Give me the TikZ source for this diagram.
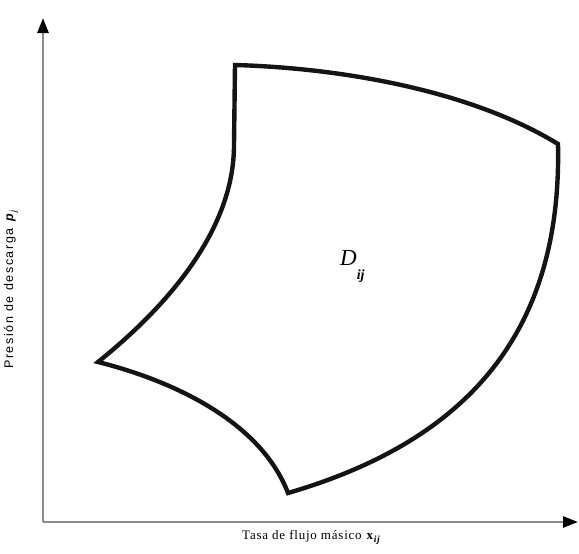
\documentclass[tikz,border=0pt]{standalone}
\usepackage{fontspec}
\setmainfont{Liberation Serif}
\newfontfamily\axisfont[LetterSpace=13]{Liberation Sans}
\newfontfamily\xaxisfont[LetterSpace=6]{Liberation Serif}
\usetikzlibrary{arrows.meta}

\begin{document}
\begin{tikzpicture}[
  x=1pt, y=-1pt,
  axis/.style={draw=black!45, line width=2.5pt, -{Triangle[length=15pt,width=11pt,black]}},
  region/.style={draw=black!92, line width=4.4pt, line join=miter},
  lbl/.style={inner sep=0pt, font=\xaxisfont\fontsize{13}{15}\selectfont},
  ylbl/.style={inner sep=0pt, rotate=90, font=\axisfont\fontsize{12.5}{14}\selectfont}
]
\useasboundingbox (0,0) rectangle (579,554);
\coordinate (origin) at (43,522);
\coordinate (ytip) at (43,18);
\coordinate (xtip) at (578,522);
\draw[axis] (origin) -- (ytip);
\draw[axis] (origin) -- (xtip);

\coordinate (topleft) at (235,65);
\coordinate (topright) at (558,144);
\coordinate (bottom) at (288,493);
\coordinate (left) at (98,362);
\coordinate (bend) at (234,145);
\draw[region] (topleft) .. controls (340,68) and (470,90) .. (topright)
  .. controls (562,330) and (470,440) .. (bottom)
  .. controls (260,420) and (170,380) .. (left)
  .. controls (175,300) and (234,225) .. (bend)
  -- cycle;

\node[anchor=base west, inner sep=0pt] (dij) at (340,265)
  {\fontsize{23}{26}\selectfont\itshape D\raisebox{-14pt}{\fontsize{14}{16}\selectfont\bfseries ij}};

\node[lbl, anchor=base west] (xlabel) at (242,539)
  {Tasa de flujo másico \textbf{x}\raisebox{-3pt}{\fontsize{9.5}{10}\selectfont\itshape\bfseries ij}};
\node[ylbl, anchor=base west] (ylabel) at (13,369)
  {Presión de descarga \textbf{\itshape p}\raisebox{-3pt}{\fontsize{9}{10}\selectfont\itshape j}};
\end{tikzpicture}
\end{document}
